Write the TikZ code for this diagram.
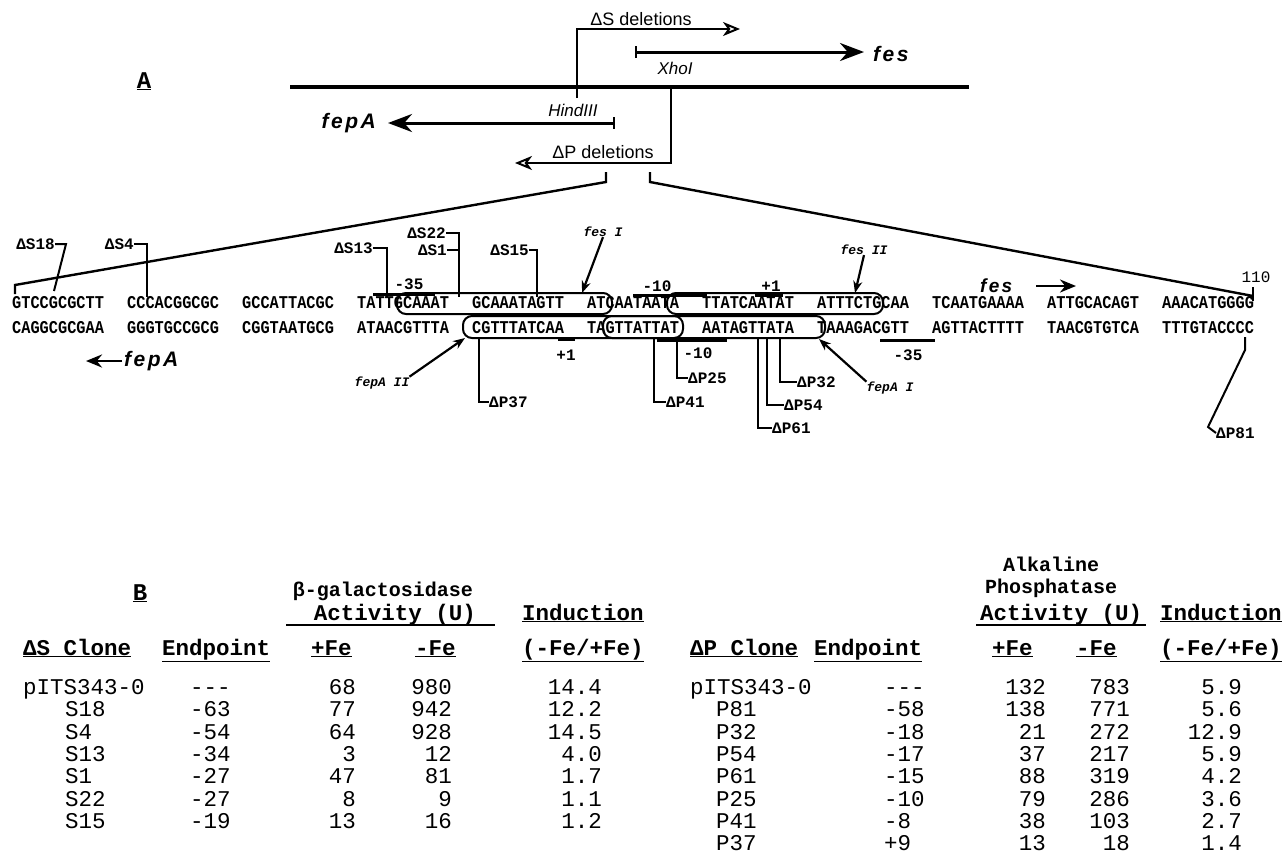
\documentclass[tikz,border=0pt]{standalone}
\usepackage{fontspec}
\setmainfont{Liberation Sans}
\newfontfamily\monofont{Liberation Mono}
\usetikzlibrary{arrows.meta,positioning}

\tikzset{
  seq/.style={font=\monofont\bfseries\fontsize{18}{19}\selectfont\addfontfeature{FakeStretch=0.85}, inner sep=0pt, anchor=west},
  dlabel/.style={font=\monofont\bfseries\fontsize{16}{17}\selectfont, inner sep=0pt},
  boxlabel/.style={font=\monofont\bfseries\itshape\fontsize{13}{14}\selectfont, inner sep=0pt},
  genename/.style={font=\bfseries\itshape\fontsize{21}{22}\selectfont\addfontfeature{LetterSpace=12}, inner sep=0pt},
  site/.style={font=\itshape\fontsize{17}{18}\selectfont, inner sep=0pt},
  deltxt/.style={font=\fontsize{18}{19}\selectfont, inner sep=0pt},
  panel/.style={font=\monofont\bfseries\fontsize{24}{26}\selectfont, inner sep=0pt, anchor=base},
  marker/.style={line width=2pt},
  bracket/.style={line width=1.6pt, -{Stealth[open, length=17pt, width=14pt, inset=5pt, line width=2pt]}},
  genearrow/.style={line width=3pt, {Bar[width=12pt, line width=2pt]}-{Stealth[length=24pt, width=18pt]}},
  zoomline/.style={line width=2.4pt},
  pointer/.style={line width=2.2pt, -{Stealth[length=12pt, width=9pt]}},
  shortarrow/.style={line width=2.6pt, -{Stealth[length=16pt, width=13pt]}},
  promoter/.style={line width=3pt},
  regbox/.style={draw, line width=2pt, rounded corners=9pt, inner sep=0pt},
  tab/.style={font=\monofont\fontsize{22.5}{24}\selectfont, inner sep=0pt, anchor=base east},
  tabl/.style={tab, anchor=base west},
  tabhead/.style={font=\monofont\bfseries\fontsize{22.5}{24}\selectfont, inner sep=0pt, anchor=base west},
  tabtitle/.style={font=\monofont\bfseries\fontsize{20}{22}\selectfont, inner sep=0pt, anchor=base},
}

\begin{document}
\begin{tikzpicture}[x=1pt,y=-1pt]
\useasboundingbox (0,0) rectangle (1287,860);

% panel A: map
\node[panel] (secA) at (144,88) {\underline{A}};
\draw[line width=3.5pt] (290,87) -- (969,87);
\coordinate (hind) at (577,98);
\coordinate (dSend) at (740,29);
\coordinate (xho) at (671,87);
\coordinate (dPend) at (515,163);
\draw[bracket] (hind) |- (dSend);
\draw[bracket] (xho) |- (dPend);
\node[deltxt] (dStxt) at (641,19) {ΔS deletions};
\node[deltxt] (dPtxt) at (603,152) {ΔP deletions};
\node[site] (xhotxt) at (675,68) {XhoI};
\node[site] (hindtxt) at (573,110) {HindIII};
\coordinate (fesA) at (635,52);
\coordinate (fesB) at (864,52);
\draw[genearrow] (fesA) -- (fesB);
\node[genename, anchor=west] (fesname) at (873,54) {fes};
\coordinate (fepA) at (615,123);
\coordinate (fepB) at (388,123);
\draw[genearrow] (fepA) -- (fepB);
\node[genename, anchor=east] (fepname) at (376,123) {fepA};

% expansion to sequence
\draw[zoomline] (606,172) -- (606,182) -- (15,285) -- (15,294);
\draw[zoomline] (650,172) -- (650,182) -- (1253,296);
\draw[line width=1.6pt] (1253,287) -- (1253,301);
\node[dlabel, font=\monofont\fontsize{16}{17}\selectfont] (n110) at (1256,277) {110};

% sequence
\foreach \topstr/\botstr [count=\g from 0] in {GTCCGCGCTT/CAGGCGCGAA, CCCACGGCGC/GGGTGCCGCG,
    GCCATTACGC/CGGTAATGCG, TATTGCAAAT/ATAACGTTTA, GCAAATAGTT/CGTTTATCAA,
    ATCAATAATA/TAGTTATTAT, TTATCAATAT/AATAGTTATA, ATTTCTGCAA/TAAAGACGTT,
    TCAATGAAAA/AGTTACTTTT, ATTGCACAGT/TAACGTGTCA, AAACATGGGG/TTTGTACCCC}{
  \node[seq] (t\g) at (12+115*\g,303) {\topstr};
  \node[seq] (b\g) at (12+115*\g,328) {\botstr};
}

% binding boxes
\node[regbox, minimum width=215pt, minimum height=21pt] (fesIbox) at (504.5,303.5) {};
\node[regbox, minimum width=216pt, minimum height=21pt] (fesIIbox) at (775,303.5) {};
\node[regbox, minimum width=220pt, minimum height=22pt] (fepAIIbox) at (573,327) {};
\node[regbox, minimum width=222pt, minimum height=22pt] (fepAIbox) at (714,327) {};

% promoter elements
\node[dlabel] (m35t) at (409,284) {-35};
\node[dlabel] (m10t) at (657,286) {-10};
\node[dlabel] (p1t) at (771,286) {+1};
\node[dlabel] (p1b) at (566,355) {+1};
\node[dlabel] (m10b) at (698,353) {-10};
\node[dlabel] (m35b) at (908,355) {-35};
\draw[promoter] (373,294) -- (435,294);
\draw[promoter] (633,295) -- (707,295);
\draw[promoter] (755,295) -- (783,295);
\draw[promoter] (558,339) -- (575,339);
\draw[promoter] (657,340) -- (727,340);
\draw[promoter] (880,340) -- (935,340);

% boxes named
\node[boxlabel] (fesI) at (603,232) {fes I};
\node[boxlabel] (fesII) at (864,250) {fes II};
\node[boxlabel] (fepAII) at (382,383) {fepA II};
\node[boxlabel] (fepAI) at (890,388) {fepA I};
\coordinate (fesItip) at (582,293);
\coordinate (fesIItip) at (855,293);
\coordinate (fepAIItip) at (465,338);
\coordinate (fepAItip) at (819,339);
\draw[pointer] (fesI.south) -- (fesItip);
\draw[pointer] (fesII.south) -- (fesIItip);
\draw[pointer] (fepAII.north east) -- (fepAIItip);
\draw[pointer] (fepAI.north west) -- (fepAItip);

% gene direction
\node[genename, font=\bfseries\itshape\fontsize{19}{20}\selectfont\addfontfeature{LetterSpace=12}, anchor=west] (fesseq) at (980,286) {fes};
\coordinate (fesarrA) at (1036,286);
\coordinate (fesarrB) at (1076,286);
\draw[shortarrow] (fesarrA) -- (fesarrB);
\node[genename, anchor=west] (fepseq) at (124,361) {fepA};
\coordinate (feparrA) at (122,361);
\coordinate (feparrB) at (86,361);
\draw[shortarrow] (feparrA) -- (feparrB);

% deltaS endpoints
\node[dlabel, anchor=east] (dS18) at (55,244) {ΔS18};
\node[dlabel, anchor=east] (dS4) at (134,244) {ΔS4};
\node[dlabel, anchor=east] (dS13) at (373,248) {ΔS13};
\node[dlabel, anchor=east] (dS22) at (446,233) {ΔS22};
\node[dlabel, anchor=east] (dS1) at (447,250) {ΔS1};
\node[dlabel, anchor=east] (dS15) at (529,250) {ΔS15};
\coordinate (s18) at (54,291);
\coordinate (s4) at (147,297);
\coordinate (s13) at (387,297);
\coordinate (s22) at (459,297);
\coordinate (s15) at (537,297);
\draw[marker] (dS18.east) -- ++(11,0) -- (s18);
\draw[marker] (dS4.east) -| (s4);
\draw[marker] (dS13.east) -| (s13);
\draw[marker] (dS22.east) -| (s22);
\draw[marker] (dS1.east) -- (459,250);
\draw[marker] (dS15.east) -| (s15);

% deltaP endpoints
\node[dlabel, anchor=west] (dP37) at (489,402) {ΔP37};
\node[dlabel, anchor=west] (dP41) at (666,402) {ΔP41};
\node[dlabel, anchor=west] (dP25) at (688,378) {ΔP25};
\node[dlabel, anchor=west] (dP32) at (797,382) {ΔP32};
\node[dlabel, anchor=west] (dP54) at (784,405) {ΔP54};
\node[dlabel, anchor=west] (dP61) at (772,428) {ΔP61};
\node[dlabel, anchor=west] (dP81) at (1216,433) {ΔP81};
\coordinate (p37) at (479,338);
\coordinate (p41) at (654,338);
\coordinate (p25) at (677,338);
\coordinate (p32) at (780,338);
\coordinate (p54) at (767,338);
\coordinate (p61) at (758,338);
\coordinate (p81) at (1245,337);
\draw[marker] (p37) |- (dP37.west);
\draw[marker] (p41) |- (dP41.west);
\draw[marker] (p25) |- (dP25.west);
\draw[marker] (p32) |- (dP32.west);
\draw[marker] (p54) |- (dP54.west);
\draw[marker] (p61) |- (dP61.west);
\draw[marker] (p81) -- ++(0,13) -- (1208,427) -- (dP81.west);

% panel B: tables
\node[panel] (secB) at (140,600) {\underline{B}};
\node[tabtitle] (bgal) at (383,596) {β-galactosidase};
\node[tabhead, anchor=base] (actS) at (395,620) {Activity (U)};
\draw[line width=1.4pt] (286,625) -- (495,625);
\node[tabhead] (indS) at (522,620) {\underline{Induction}};
\node[tabhead] (hS1) at (23,655) {\underline{ΔS Clone}};
\node[tabhead] (hS2) at (162,655) {\underline{Endpoint}};
\node[tabhead] (hS3) at (311,655) {\underline{+Fe}};
\node[tabhead] (hS4) at (415,655) {\underline{-Fe}};
\node[tabhead] (hS5) at (522,655) {\underline{(-Fe/+Fe)}};
\node[tabl] (sc0) at (23,694.6) {pITS343-0};
\node[tabl] (se0) at (190,694.6) {-{}-{}-};
\node[tab] (sp0) at (356,694.6) {68};
\node[tab] (sm0) at (452,694.6) {980};
\node[tab] (si0) at (602,694.6) {14.4};
\foreach \cl/\ep/\pf/\mf/\ind [count=\r] in {S18/-63/77/942/12.2, S4/-54/64/928/14.5,
    S13/-34/3/12/4.0, S1/-27/47/81/1.7, S22/-27/8/9/1.1, S15/-19/13/16/1.2}{
  \node[tabl] (sc\r) at (65,694.6+22.3*\r) {\cl};
  \node[tabl] (se\r) at (190,694.6+22.3*\r) {\ep};
  \node[tab] (sp\r) at (356,694.6+22.3*\r) {\pf};
  \node[tab] (sm\r) at (452,694.6+22.3*\r) {\mf};
  \node[tab] (si\r) at (602,694.6+22.3*\r) {\ind};
}

\node[tabtitle] (alk) at (1051,571) {Alkaline};
\node[tabtitle] (phos) at (1051,593) {Phosphatase};
\node[tabhead, anchor=base] (actP) at (1061,620) {Activity (U)};
\draw[line width=1.4pt] (976,625) -- (1146,625);
\node[tabhead] (indP) at (1160,620) {\underline{Induction}};
\node[tabhead] (hP1) at (690,655) {\underline{ΔP Clone}};
\node[tabhead] (hP2) at (814,655) {\underline{Endpoint}};
\node[tabhead] (hP3) at (992,655) {\underline{+Fe}};
\node[tabhead] (hP4) at (1076,655) {\underline{-Fe}};
\node[tabhead] (hP5) at (1160,655) {\underline{(-Fe/+Fe)}};
\node[tabl] (pc0) at (690,694.6) {pITS343-0};
\node[tabl] (pe0) at (884,694.6) {-{}-{}-};
\node[tab] (pp0) at (1046,694.6) {132};
\node[tab] (pm0) at (1130,694.6) {783};
\node[tab] (pi0) at (1242,694.6) {5.9};
\foreach \cl/\ep/\pf/\mf/\ind [count=\r] in {P81/-58/138/771/5.6, P32/-18/21/272/12.9,
    P54/-17/37/217/5.9, P61/-15/88/319/4.2, P25/-10/79/286/3.6, P41/-8/38/103/2.7,
    P37/+9/13/18/1.4}{
  \node[tabl] (pc\r) at (716,694.6+22.3*\r) {\cl};
  \node[tabl] (pe\r) at (884,694.6+22.3*\r) {\ep};
  \node[tab] (pp\r) at (1046,694.6+22.3*\r) {\pf};
  \node[tab] (pm\r) at (1130,694.6+22.3*\r) {\mf};
  \node[tab] (pi\r) at (1242,694.6+22.3*\r) {\ind};
}
\end{tikzpicture}
\end{document}
